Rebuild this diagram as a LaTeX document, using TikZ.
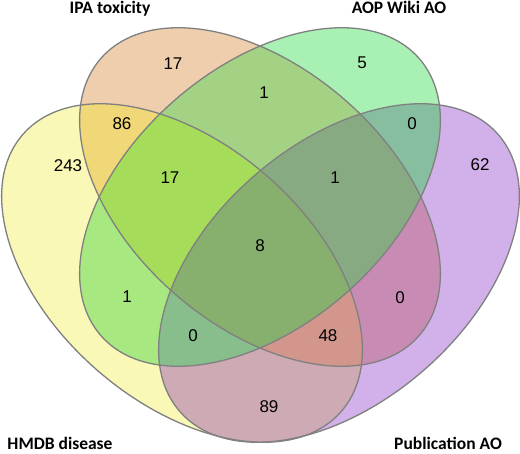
\documentclass[tikz,border=0pt]{standalone}
\usepackage{fontspec}
\setmainfont{Liberation Sans}
\newfontfamily\titlefont{Carlito}
\definecolor{hcol}{HTML}{FAF8B6}
\definecolor{icol}{HTML}{EECEAC}
\definecolor{acol}{HTML}{A8F0B4}
\definecolor{pcol}{HTML}{D2B0EA}
\definecolor{hicol}{HTML}{F0D878}
\definecolor{hacol}{HTML}{A8E880}
\definecolor{hpcol}{HTML}{CDAAB4}
\definecolor{iacol}{HTML}{A4D284}
\definecolor{ipcol}{HTML}{C88CB4}
\definecolor{apcol}{HTML}{88BEA0}
\definecolor{hiacol}{HTML}{A5DC5A}
\definecolor{hipcol}{HTML}{D2968C}
\definecolor{hapcol}{HTML}{87BE8C}
\definecolor{iapcol}{HTML}{88AA82}
\definecolor{allcol}{HTML}{87AF6E}
\definecolor{rimgray}{HTML}{808080}
% the four sets
\newcommand\hmdbE{[rotate around={-41:(182,273)}] (182,273) ellipse (211 and 129)}
\newcommand\ipaE{[rotate around={-41:(260,197)}] (260,197) ellipse (211 and 129)}
\newcommand\aopE{[rotate around={41:(260,197)}] (260,197) ellipse (211 and 129)}
\newcommand\pubE{[rotate around={41:(339,273)}] (339,273) ellipse (211 and 129)}
\tikzset{
  rim/.style={draw=rimgray, line width=1.3pt},
  num/.style={font=\fontsize{17}{17}\selectfont, inner sep=0pt},
  ttl/.style={font=\titlefont\bfseries\fontsize{17.5}{18}\selectfont, inner sep=0pt, anchor=base},
}
\begin{document}
\begin{tikzpicture}[x=1pt, y=-1pt]
    \useasboundingbox (0,0) rectangle (520,454);
    % single sets
    \fill[hcol] \hmdbE; \fill[icol] \ipaE; \fill[acol] \aopE; \fill[pcol] \pubE;
    % pairs
    \begin{scope} \clip \hmdbE; \fill[hicol] \ipaE; \fill[hacol] \aopE; \fill[hpcol] \pubE; \end{scope}
    \begin{scope} \clip \ipaE; \fill[iacol] \aopE; \fill[ipcol] \pubE; \end{scope}
    \begin{scope} \clip \aopE; \fill[apcol] \pubE; \end{scope}
    % triples
    \begin{scope} \clip \hmdbE; \clip \ipaE; \fill[hiacol] \aopE; \fill[hipcol] \pubE; \end{scope}
    \begin{scope} \clip \hmdbE; \clip \aopE; \fill[hapcol] \pubE; \end{scope}
    \begin{scope} \clip \ipaE; \clip \aopE; \fill[iapcol] \pubE; \end{scope}
    \begin{scope} \clip \hmdbE; \clip \ipaE; \clip \aopE; \fill[allcol] \pubE; \end{scope}
    \draw[rim] \hmdbE; \draw[rim] \ipaE; \draw[rim] \aopE; \draw[rim] \pubE;
    % counts
    \node[num] (hOnly) at (68,166) {243};
    \node[num] (iOnly) at (173,64) {17};
    \node[num] (aOnly) at (362,63) {5};
    \node[num] (pOnly) at (480,165) {62};
    \node[num] (hi) at (122,124) {86};
    \node[num] (ia) at (264,93) {1};
    \node[num] (ap) at (412,124) {0};
    \node[num] (hia) at (170,178) {17};
    \node[num] (iap) at (335,178) {1};
    \node[num] (hiap) at (260,246) {8};
    \node[num] (ha) at (127,297) {1};
    \node[num] (hap) at (193,336) {0};
    \node[num] (ip) at (400,298) {0};
    \node[num] (hip) at (328,336) {48};
    \node[num] (hp) at (269,407) {89};
    % set names
    \node[ttl] (ipa) at (110,14) {IPA toxicity};
    \node[ttl] (aop) at (399,14) {AOP Wiki AO};
    \node[ttl] (hmdb) at (60,449.5) {HMDB disease};
    \node[ttl] (pub) at (448,449.5) {Publication AO};
\end{tikzpicture}
\end{document}
